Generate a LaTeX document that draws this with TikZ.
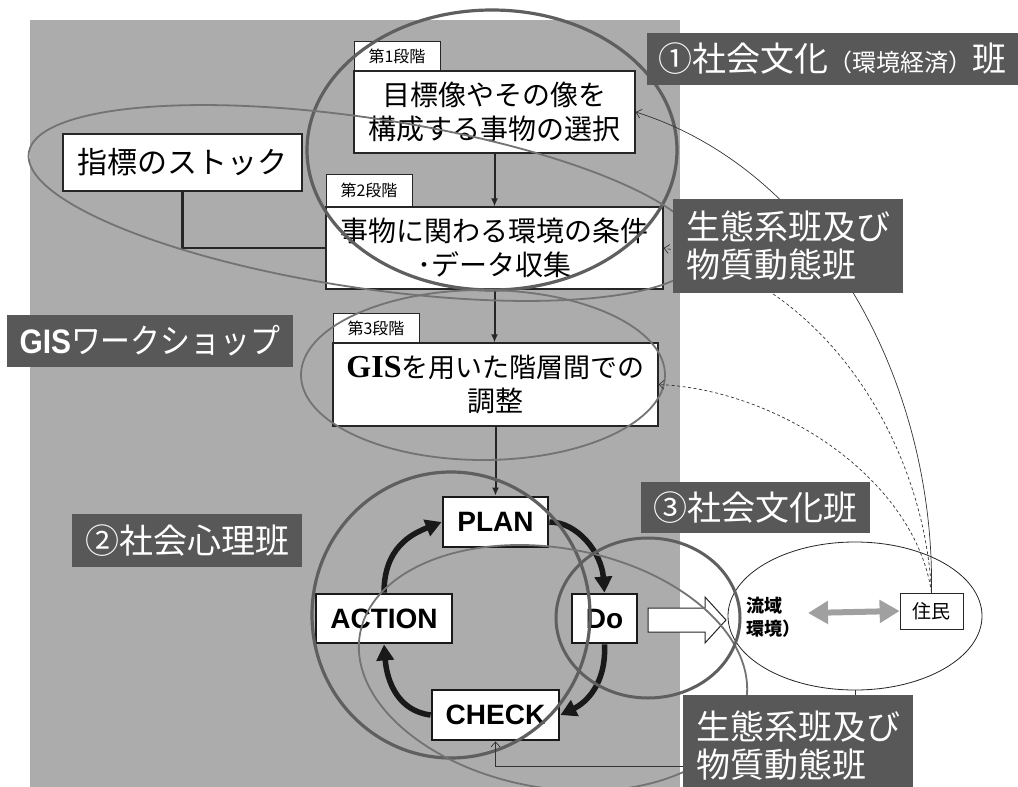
\documentclass[tikz,border=0pt]{standalone}
\usepackage{fontspec}
\usepackage{graphicx}
\usetikzlibrary{arrows.meta,shapes.geometric}
\newfontfamily\jp{Noto Sans CJK JP}
\newfontfamily\lsans{Liberation Sans}
\newfontfamily\lserif{Liberation Serif}
\definecolor{bggray}{RGB}{172,172,172}
\definecolor{labgray}{RGB}{88,88,88}
\definecolor{ringdark}{RGB}{95,95,95}
\definecolor{ringmid}{RGB}{115,115,115}
\definecolor{dblgray}{RGB}{160,160,160}
\newcommand\fsz[2]{\fontsize{#1pt}{#2pt}\selectfont}
\begin{document}
\begin{tikzpicture}[x=1pt,y=-1pt,
  wbox/.style={draw=black!85, fill=white, line width=1.2pt, inner sep=0pt, align=center, font=\jp\fsz{28}{34}},
  tabbox/.style={draw=black!85, fill=white, line width=0.8pt, inner sep=0pt, font=\jp\fsz{16}{16}},
  pdca/.style={draw=black!90, fill=white, line width=2.8pt, inner sep=0pt, font=\lsans\bfseries\fsz{28}{28}},
  lab/.style={fill=labgray, text=white, inner sep=0pt, align=left, font=\jp\fsz{34}{38}},
  flow/.style={line width=2pt, black!85, -{Latex[length=8pt,width=7pt]}},
  cyc/.style={line width=5.5pt, black!90, -{Triangle[length=16pt,width=17pt]}},
  ring/.style={ringdark, line width=3.2pt},
  thinring/.style={ringmid, line width=1.8pt},
  link/.style={line width=0.7pt, black!80, -{Straight Barb[length=5pt,width=9pt]}},
  dlink/.style={link, dash pattern=on 3pt off 2.5pt},
]
\useasboundingbox (0,0) rectangle (1018,787);
\fill[white] (0,0) rectangle (1018,787);
\fill[bggray] (30,20) rectangle (680,787);

% stage boxes
\node[tabbox, minimum width=86, minimum height=30] (s1tab) at (397,56) {第1段階};
\node[wbox, minimum width=281, minimum height=82] (s1) at (494.5,112) {目標像やその像を\\構成する事物の選択};
\node[wbox, line width=2.5pt, font=\jp\fsz{30}{30}, minimum width=239, minimum height=57] (stock) at (182.5,162.5) {指標のストック};
\node[tabbox, minimum width=86, minimum height=32] (s2tab) at (369,190) {第2段階};
\node[wbox, minimum width=337, minimum height=82] (s2) at (494.5,248) {事物に関わる環境の条件\\･データ収集};
\node[tabbox, minimum width=86, minimum height=30] (s3tab) at (376,328) {第3段階};
\node[wbox, minimum width=325, minimum height=83] (s3) at (495.5,384.5) {{\lserif\bfseries\fsz{32}{34}GIS}{\fsz{27}{34}を用いた階層間での}\\調整};

% PDCA
\node[pdca, minimum width=105, minimum height=50] (plan) at (495.5,522) {PLAN};
\node[pdca, minimum width=136, minimum height=49] (action) at (384,618.5) {ACTION};
\node[pdca, minimum width=65, minimum height=49] (do) at (604.5,618.5) {Do};
\node[pdca, minimum width=127, minimum height=50] (check) at (495.5,715) {CHECK};

% flow connectors
\draw[flow] (s1.south) -- (s2.north);
\draw[flow] (s2.south) -- (s2.south |- s3.north);
\draw[flow] (s3.south) -- (plan.north);
\draw[line width=2.5pt, black!85] (stock.south) |- (s2.west);

% cycle
\draw[cyc] (action.north) .. controls +(0,-45) and +(-30,12) .. (plan.west);
\draw[cyc] (plan.east) .. controls +(28,0) and +(-3,-40) .. (do.north);
\draw[cyc] (do.south) .. controls +(2,40) and +(25,-12) .. (check.east);
\draw[cyc] (check.west) .. controls +(-32,-4) and +(3,38) .. (action.south);

% basin
\node[draw=black!85, line width=0.8pt, ellipse, inner sep=0pt, minimum width=254, minimum height=148] (basin) at (855,616) {};
\node[anchor=west, align=left, font=\jp\bfseries\fsz{18}{23}] (basintxt) at (743,617) {流域\\環境）};
\node[draw=black!85, line width=0.8pt, fill=white, inner sep=0pt, minimum width=63, minimum height=36, font=\jp\fsz{19}{19}] (jumin) at (931.5,611) {住民};
\coordinate (dblL) at (808,613);
\draw[dblgray, line width=6pt, {Triangle[length=20pt,width=22pt]}-{Triangle[length=20pt,width=22pt]}] (dblL) -- (jumin.west);
\draw[line width=1pt, black!85, fill=white] (648,608) -- (705,608) -- (705,597) -- (726,620) -- (705,643) -- (705,632) -- (648,632) -- cycle;

% ellipses
\draw[ring] (492,150) ellipse [x radius=185, y radius=140];
\draw[thinring, rotate around={-8.5:(365,203)}] (365,203) ellipse [x radius=340, y radius=85];
\draw[thinring] (483,375) ellipse [x radius=182, y radius=85];
\draw[ring] (451,615) ellipse [x radius=139, y radius=143];
\draw[thinring, rotate around={-10:(553,668)}] (553,668) ellipse [x radius=196, y radius=120];
\draw[ring, line width=3pt] (648,618) ellipse [x radius=92, y radius=80];

% links from residents
\draw[link] (jumin.north) .. controls (935,380) and (820,170) .. (s1.east);
\draw[dlink] (jumin.north) .. controls (925,450) and (830,280) .. (s2.east);
\draw[dlink] (jumin.north) .. controls (915,480) and (780,390) .. (s3.east);

% labels
\node[lab, minimum width=371, minimum height=52] (lab1) at (832.5,59) {①社会文化{\fsz{24}{24}（環境経済）}班};
\node[lab, minimum width=230, minimum height=94] (lab2) at (788,246) {生態系班及び\\物質動態班};
\node[lab, minimum width=286, minimum height=52] (labgis) at (150,341) {\scalebox{0.88}[1]{{\lsans\bfseries GIS}ワークショップ}};
\node[lab, minimum width=230, minimum height=53] (lab3) at (187,540.5) {②社会心理班};
\node[lab, minimum width=229, minimum height=51] (lab4) at (755.5,507.5) {③社会文化班};
\node[lab, minimum width=230, minimum height=100, anchor=north west] (lab5) at (683,695) {生態系班及び\\物質動態班};

\coordinate (chk) at (683,766);
\draw[link] (chk) -| (check.south);
\draw[line width=0.7pt, black!80] (basin.south) -- (basin.south |- lab5.north);
\end{tikzpicture}
\end{document}
